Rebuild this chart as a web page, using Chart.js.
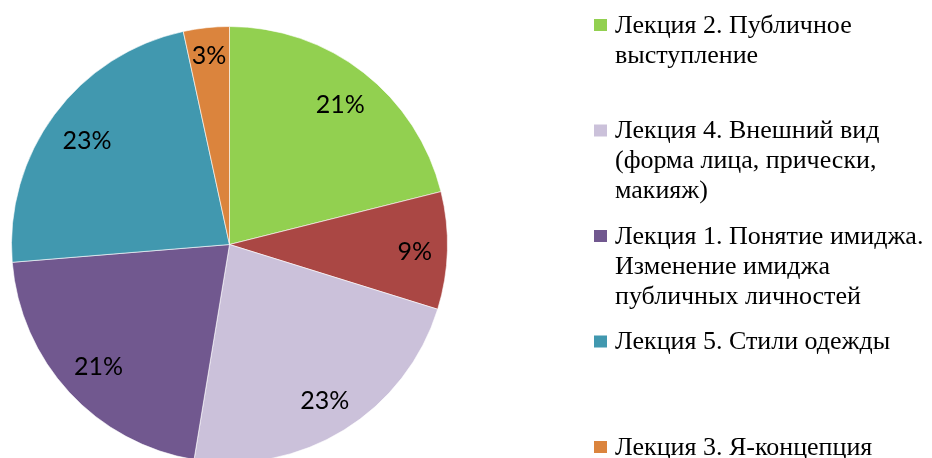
<!DOCTYPE html>
<html>
<head>
  <title>Лекции</title>
  <style>
    body {
      margin: 0;
      padding: 0;
      width: 932px;
      height: 458px;
      overflow: hidden;
      background-color: #fff;
      position: relative;
    }

    .chart-box {
      position: absolute;
      left: 0;
      top: 0;
      width: 932px;
      height: 489px;
    }
  </style>
  <script src="https://cdn.jsdelivr.net/npm/chart.js"></script>
</head>
<body>
<div class="chart-box">
  <canvas id="pieChart"></canvas>
</div>

<script>
  // Slices, clockwise from 12 o'clock
  const lectures = [
    'Лекция 2. Публичное\nвыступление',
    '',
    'Лекция 4. Внешний вид\n(форма лица, прически,\nмакияж)',
    'Лекция 1. Понятие имиджа.\nИзменение имиджа\nпубличных личностей',
    'Лекция 5. Стили одежды',
    'Лекция 3. Я-концепция'
  ];
  // shares in percent
  const shares = [21.1, 8.7, 22.8, 21.1, 22.9, 3.4];
  const sliceColors = ['#92D050', '#AA4744', '#CBC1DA', '#71588F', '#4198AF', '#DB843D'];

  const total = shares.reduce((a, b) => a + b, 0);

  // percent labels, placed near the outer edge like Excel's "inside end"
  const percentLabels = {
    id: 'percentLabels',
    afterDatasetsDraw(chart) {
      const ctx = chart.ctx;
      const meta = chart.getDatasetMeta(0);
      ctx.save();
      ctx.font = '25px Lato, "Open Sans", sans-serif';
      ctx.fillStyle = '#000';
      ctx.textAlign = 'center';
      ctx.textBaseline = 'middle';
      meta.data.forEach((arc, i) => {
        const p = arc.getProps(['x', 'y', 'startAngle', 'endAngle', 'outerRadius'], true);
        const mid = (p.startAngle + p.endAngle) / 2;
        const text = Math.round(shares[i] / total * 100) + '%';
        const w = ctx.measureText(text).width;
        const proj = (w / 2) * Math.abs(Math.cos(mid)) + 10 * Math.abs(Math.sin(mid));
        const r = p.outerRadius - 15 - proj;
        ctx.fillText(text, p.x + r * Math.cos(mid), p.y + r * Math.sin(mid) + 2);
      });
      ctx.restore();
    }
  };

  // legend on the right, the unnamed slice is left out
  const sideLegend = {
    id: 'sideLegend',
    afterDraw(chart) {
      const ctx = chart.ctx;
      ctx.save();
      ctx.font = "26px 'Liberation Serif', serif";
      ctx.textAlign = 'left';
      ctx.textBaseline = 'middle';
      let row = 0;
      lectures.forEach((name, i) => {
        if (!name) return;
        const top = 10 + row * 105.5;
        ctx.fillStyle = sliceColors[i];
        ctx.fillRect(594, top + 9, 13, 12);
        ctx.fillStyle = '#000';
        name.split('\n').forEach((line, k) => {
          ctx.fillText(line, 615, top + 16 + k * 30);
        });
        row++;
      });
      ctx.restore();
    }
  };

  const pieChart = new Chart(document.getElementById('pieChart'), {
    type: 'pie',
    data: {
      labels: lectures,
      datasets: [{
        data: shares,
        backgroundColor: sliceColors,
        borderColor: 'rgba(255, 255, 255, 0.6)',
        borderWidth: 1
      }]
    },
    options: {
      responsive: true,
      maintainAspectRatio: false,
      animation: false,
      radius: 218,
      layout: { padding: { right: 473 } },
      plugins: {
        legend: { display: false },
        tooltip: { enabled: false }
      }
    },
    plugins: [percentLabels, sideLegend]
  });
</script>
</body>
</html>
